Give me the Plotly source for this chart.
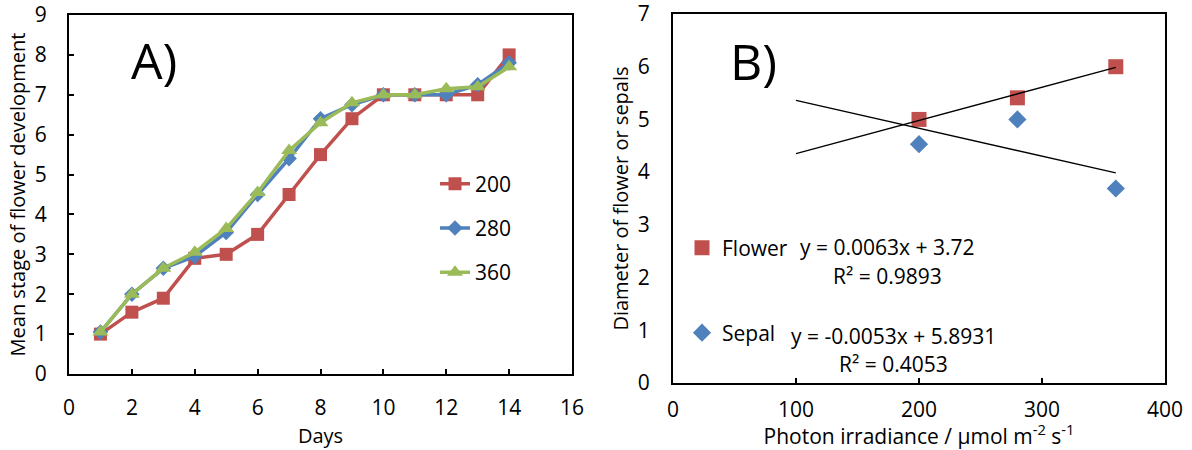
import plotly.graph_objects as go

# ---------------- Data ----------------
days = list(range(1, 15))
stage_200 = [1.0, 1.55, 1.9, 2.9, 3.0, 3.5, 4.5, 5.5, 6.4, 7.0, 7.0, 7.0, 7.0, 8.0]
stage_280 = [1.05, 2.0, 2.65, 2.95, 3.55, 4.5, 5.4, 6.4, 6.75, 7.0, 7.0, 7.0, 7.25, 7.8]
stage_360 = [1.05, 2.0, 2.65, 3.05, 3.65, 4.55, 5.6, 6.3, 6.8, 7.0, 7.0, 7.15, 7.2, 7.7]
series_names = ["200", "280", "360"]

irradiance = [200, 280, 360]
flower_diam = [5.0, 5.41, 6.0]
sepal_diam = [4.53, 5.0, 3.69]
flower_fit = (0.0063, 3.72)      # slope, intercept
sepal_fit = (-0.0053, 5.8931)
fit_range = [100, 360]

x_ticks_a = [0, 2, 4, 6, 8, 10, 12, 14, 16]
y_ticks_a = [0, 1, 2, 3, 4, 5, 6, 7, 8, 9]
x_ticks_b = [0, 100, 200, 300, 400]
y_ticks_b = [0, 1, 2, 3, 4, 5, 6, 7]

# ---------------- Style ----------------
RED = "#C0504D"
BLUE = "#4F81BD"
GREEN = "#9BBB59"
FONT = "Open Sans"
W, H = 1192, 450

fig = go.Figure()

# Panel A
for name, vals, col, sym, size in [
    (series_names[0], stage_200, RED, "square", 13),
    (series_names[1], stage_280, BLUE, "diamond", 12),
    (series_names[2], stage_360, GREEN, "triangle-up", 14),
]:
    fig.add_trace(go.Scatter(
        x=days, y=vals, name=name, mode="lines+markers",
        line=dict(color=col, width=3.5),
        marker=dict(color=col, symbol=sym, size=size),
        xaxis="x", yaxis="y", legend="legend", legendgroup=name,
    ))

# Panel B
fig.add_trace(go.Scatter(
    x=irradiance, y=flower_diam, name="Flower", mode="markers",
    marker=dict(color=RED, symbol="square", size=15),
    xaxis="x2", yaxis="y2", legend="legend2",
))
fig.add_trace(go.Scatter(
    x=irradiance, y=sepal_diam, name="Sepal", mode="markers",
    marker=dict(color=BLUE, symbol="diamond", size=14),
    xaxis="x2", yaxis="y2", legend="legend3",
))
for m, b in [flower_fit, sepal_fit]:
    fig.add_trace(go.Scatter(
        x=fit_range, y=[m * v + b for v in fit_range], mode="lines",
        line=dict(color="black", width=1.3), showlegend=False,
        xaxis="x2", yaxis="y2", hoverinfo="skip",
    ))


def px_x(p):
    return p / W


def px_y(p):
    return 1 - p / H


axis_common = dict(
    showline=True, linecolor="black", linewidth=2, mirror=True,
    showgrid=False, zeroline=False, automargin=False,
    ticklabeloverflow="allow",
    tickfont=dict(family=FONT, size=21, color="black"),
)

fig.update_layout(
    width=W, height=H,
    margin=dict(l=0, r=0, t=0, b=0),
    paper_bgcolor="white", plot_bgcolor="white",
    font=dict(family=FONT, color="black"),
    xaxis=dict(
        domain=[px_x(69), px_x(572)], range=[0, 16], tickvals=x_ticks_a,
        ticks="inside", ticklen=5, tickwidth=1.5, tickcolor="black",
        ticklabelstandoff=14, anchor="y",
        title=dict(text="Days", font=dict(family=FONT, size=20), standoff=9),
        **axis_common,
    ),
    yaxis=dict(
        domain=[px_y(374), px_y(15)], range=[0, 9], tickvals=y_ticks_a,
        ticks="inside", ticklen=5, tickwidth=1.5, tickcolor="black",
        ticklabelstandoff=16, anchor="x",
        title=dict(text="Mean stage of flower development",
                   font=dict(family=FONT, size=20), standoff=4),
        **axis_common,
    ),
    xaxis2=dict(
        domain=[px_x(673), px_x(1165)], range=[0, 400], tickvals=x_ticks_b,
        ticks="inside", ticklen=5, tickwidth=1.5, tickcolor="black",
        ticklabelstandoff=7, anchor="y2",
        title=dict(text="Photon irradiance / µmol m<sup>-2</sup> s<sup>-1</sup>",
                   font=dict(family=FONT, size=21), standoff=4),
        **axis_common,
    ),
    yaxis2=dict(
        domain=[px_y(383), px_y(14)], range=[0, 7], tickvals=y_ticks_b,
        ticks="", ticklabelstandoff=17, anchor="x2",
        title=dict(text="Diameter of flower or sepals",
                   font=dict(family=FONT, size=20), standoff=4),
        **axis_common,
    ),
    legend=dict(
        x=px_x(435), y=px_y(228), xanchor="left", yanchor="middle",
        font=dict(family=FONT, size=21), tracegroupgap=14,
        bgcolor="rgba(0,0,0,0)", itemclick=False,
    ),
    legend2=dict(
        x=px_x(682), y=px_y(248), xanchor="left", yanchor="middle",
        font=dict(family=FONT, size=21), bgcolor="rgba(0,0,0,0)",
    ),
    legend3=dict(
        x=px_x(682), y=px_y(333), xanchor="left", yanchor="middle",
        font=dict(family=FONT, size=21), bgcolor="rgba(0,0,0,0)",
    ),
)

ann = [
    ("A)", 154, 60, 50),
    ("B)", 753, 61, 50),
    ("y = 0.0063x + 3.72", 887, 247, 21),
    ("R² = 0.9893", 887, 276, 21),
    ("y = -0.0053x + 5.8931", 893, 336, 21),
    ("R² = 0.4053", 893, 364, 21),
]
for text, x, y, s in ann:
    fig.add_annotation(
        text=text, x=px_x(x), y=px_y(y), xref="paper", yref="paper",
        xanchor="center", yanchor="middle", showarrow=False,
        font=dict(family=FONT, size=s, color="black"),
    )

fig.write_html("out.html")
